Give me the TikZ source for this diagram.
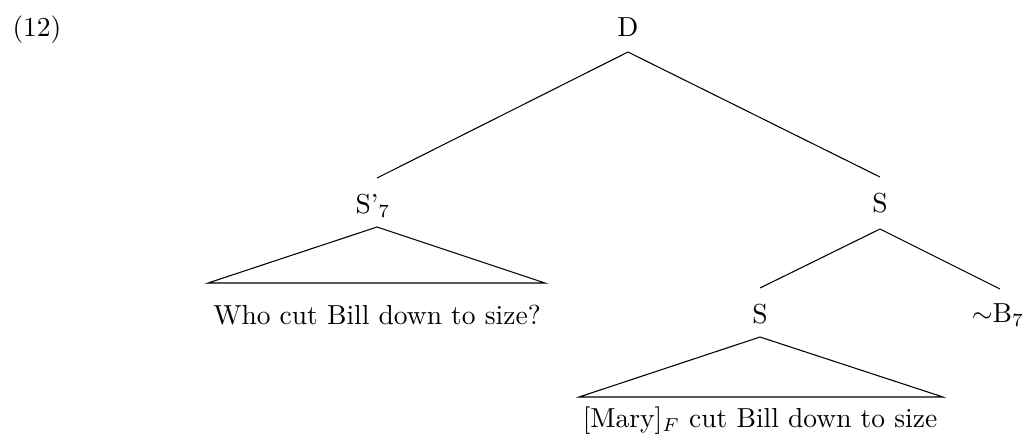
\documentclass[tikz,border=0pt]{standalone}
\begin{document}
\begin{tikzpicture}[x=0.3745pt,y=-0.3745pt,
  lab/.style={inner sep=0pt, anchor=base, font=\fontsize{10.3pt}{12.4pt}\selectfont},
  branch/.style={line width=0.4pt}]
\useasboundingbox (0,0) rectangle (1026,444);
% labels
\node[lab,anchor=base west] (ex) at (12,36) {(12)};
\node[lab] (D) at (628,36) {D};
\node[lab] (Sp) at (373,213) {S'$_7$};
\node[lab] (S1) at (880,212) {S};
\node[lab] (wh) at (377,324) {Who cut Bill down to size?};
\node[lab] (S2) at (760,323) {S};
\node[lab] (B) at (998,322) {$\sim$B$_7$};
\node[lab] (mary) at (760,427) {[Mary]$_F$ cut Bill down to size};
% attachment points
\coordinate (D-b) at (628,52);
\coordinate (Sp-t) at (377,178);
\coordinate (Sp-b) at (377,227);
\coordinate (S1-t) at (880,177);
\coordinate (S1-b) at (880,229);
\coordinate (S2-t) at (760,288);
\coordinate (B-t) at (1000,289);
\coordinate (S2-b) at (760,337);
\coordinate (T1l) at (208,283);
\coordinate (T1r) at (545,283);
\coordinate (T2l) at (579,397);
\coordinate (T2r) at (943,397);
% branches
\draw[branch] (D-b) -- (Sp-t);
\draw[branch] (D-b) -- (S1-t);
\draw[branch] (S1-b) -- (S2-t);
\draw[branch] (S1-b) -- (B-t);
% roofs
\draw[branch] (Sp-b) -- (T1l) -- (T1r) -- cycle;
\draw[branch] (S2-b) -- (T2l) -- (T2r) -- cycle;
\end{tikzpicture}
\end{document}
